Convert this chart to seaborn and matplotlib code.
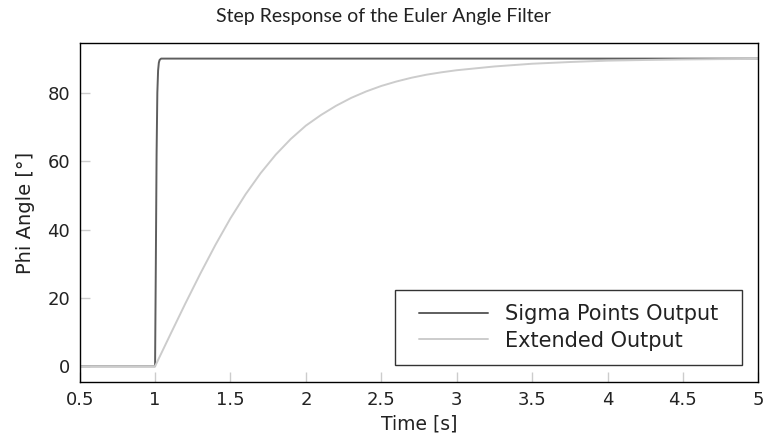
import numpy as np
import pandas as pd
import matplotlib
matplotlib.use("Agg")
import matplotlib.pyplot as plt
from matplotlib.path import Path
import seaborn as sns

# Sigma-points filter output (deg) over time (s)
t_sigma = [0.5, 0.75, 1.0, 1.005, 1.01, 1.015, 1.02, 1.025, 1.03, 1.04, 1.5, 2.0, 3.0, 4.0, 5.0]
phi_sigma = [0.0, 0.0, 0.0, 30.0, 62.0, 80.0, 86.5, 88.8, 89.6, 90.0, 90.0, 90.0, 90.0, 90.0, 90.0]

# Extended filter output (deg) over time (s)
t_ext = [0.5, 0.75, 1.0, 1.1, 1.2, 1.3, 1.4, 1.5, 1.6, 1.7, 1.8, 1.9, 2.0, 2.1, 2.2,
         2.3, 2.4, 2.5, 2.6, 2.7, 2.8, 2.9, 3.0, 3.25, 3.5, 3.75, 4.0, 4.25, 4.5, 4.75, 5.0]
phi_ext = [0.0, 0.0, 0.0, 9.2, 18.3, 27.1, 35.5, 43.3, 50.3, 56.5, 61.9, 66.5, 70.4,
           73.5, 76.2, 78.5, 80.4, 82.0, 83.3, 84.4, 85.3, 86.0, 86.6, 87.7, 88.5, 89.0,
           89.4, 89.6, 89.75, 89.85, 89.9]

sns.set_theme(style="white")
plt.rcParams['font.family'] = ['DejaVu Sans']
FS = 13

df = pd.concat([
    pd.DataFrame({"Time": t_sigma, "Phi": phi_sigma, "Series": "Sigma Points Output"}),
    pd.DataFrame({"Time": t_ext, "Phi": phi_ext, "Series": "Extended Output"}),
])

fig = plt.figure(figsize=(7.66, 4.41), dpi=100)
ax = fig.add_axes([0.104, 0.1345, 0.886, 0.7675])

sns.lineplot(data=df, x="Time", y="Phi", hue="Series",
             palette={"Sigma Points Output": "#5e5e5e", "Extended Output": "#cccccc"},
             linewidth=1.4, ax=ax, sort=False, estimator=None)

ax.set_xlim(0.5, 5.0)
ax.set_ylim(-4.5, 94.5)
ax.set_xticks(np.arange(0.5, 5.01, 0.5))
ax.set_xticklabels(["0.5", "1", "1.5", "2", "2.5", "3", "3.5", "4", "4.5", "5"])
ax.set_yticks([0, 20, 40, 60, 80])

ax.tick_params(axis="both", direction="in", length=7, width=1.0, color="#cccccc",
               labelsize=FS, labelcolor="#222222", pad=7,
               bottom=True, left=True, top=False, right=False)
for s in ax.spines.values():
    s.set_color("black")
    s.set_linewidth(1.0)

ax.set_xlabel("Time [s]", fontsize=13.5, labelpad=4, color="#222222")
ax.set_ylabel("Phi Angle [°]", fontsize=14, labelpad=9, color="#222222")
fig.suptitle("Step Response of the Euler Angle Filter", fontsize=14,
             family=["Lato", "DejaVu Sans"], x=0.5, y=0.9615, va="center",
             color="#222222")

# legend box with extra horizontal room on both sides
EXTRA = 10


def wide_square(x0, y0, width, height, mutation_size):
    x0 -= EXTRA
    x1 = x0 + width + 2 * EXTRA
    y1 = y0 + height
    return Path([(x0, y0), (x1, y0), (x1, y1), (x0, y1), (x0, y0)], closed=True)


leg = ax.legend(loc="lower right", bbox_to_anchor=(0.9617, 0.049), frameon=True,
                fancybox=False, fontsize=15, handlelength=3.3, handletextpad=0.8,
                borderpad=0.7, labelspacing=0.3, borderaxespad=0)
leg.get_frame().set_boxstyle(wide_square)
leg.get_frame().set_edgecolor("black")
leg.get_frame().set_linewidth(1.0)
for h in leg.get_lines():
    h.set_linewidth(1.4)
for t in leg.get_texts():
    t.set_color("#222222")

fig.savefig("out.png", dpi=100)
